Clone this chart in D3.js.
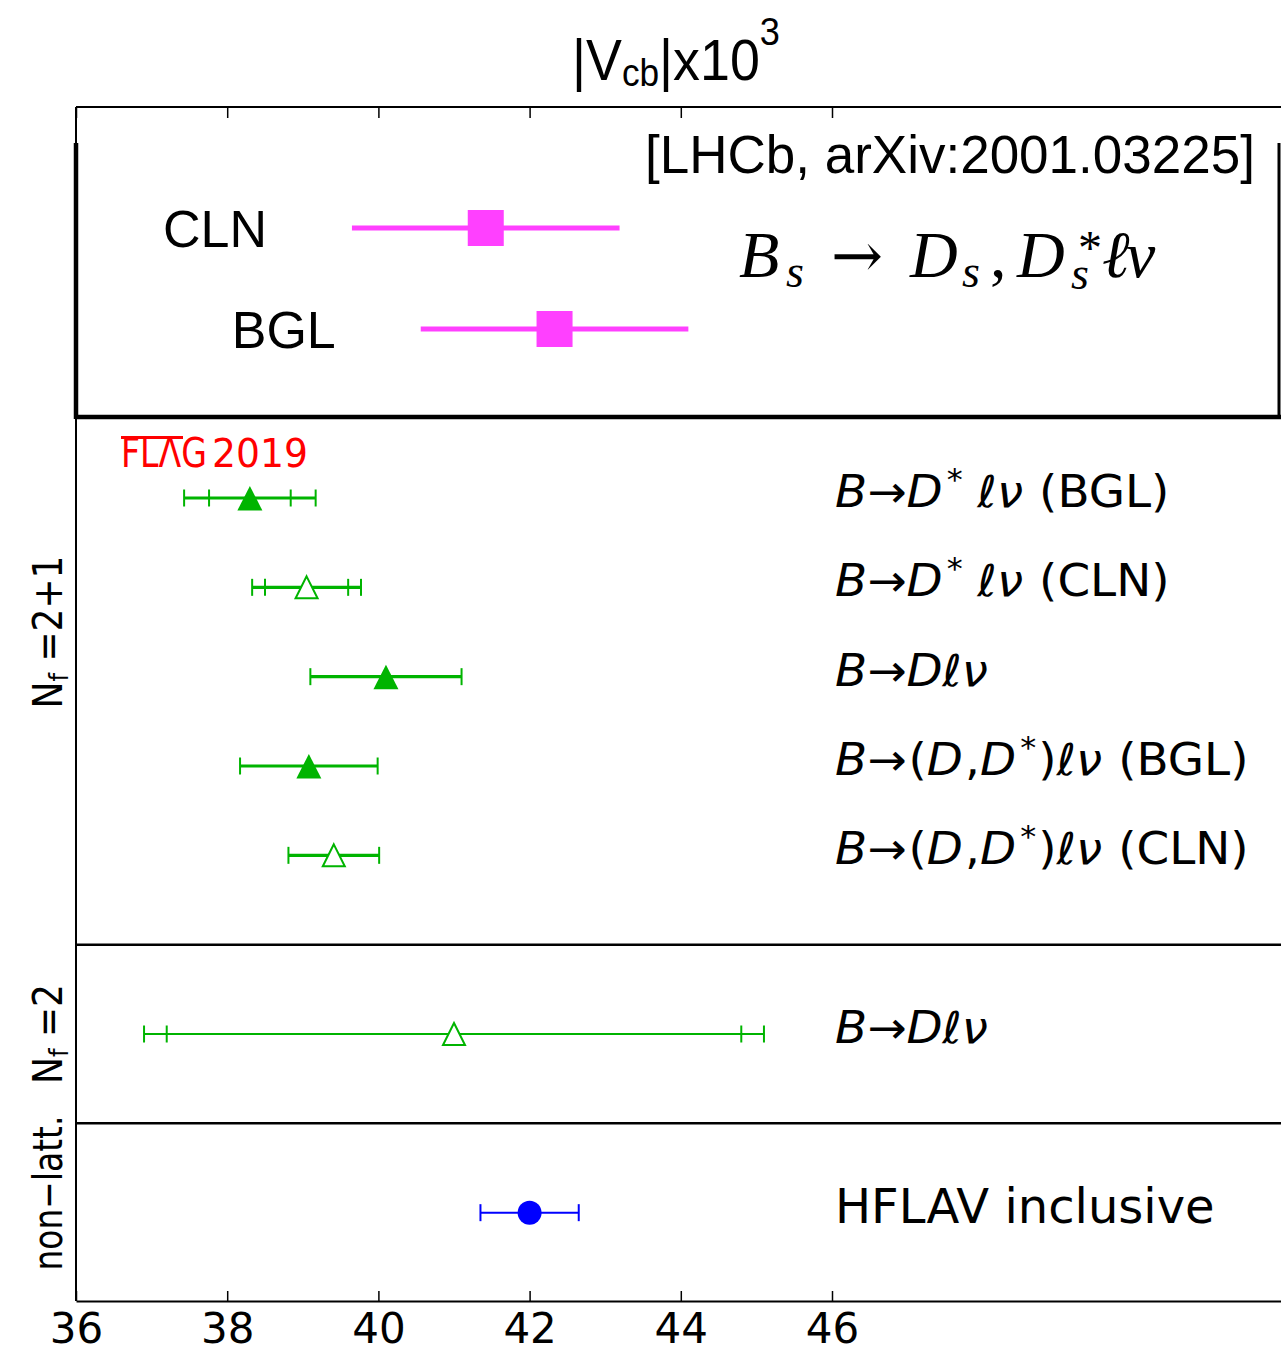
<!DOCTYPE html>
<html>
<head>
<meta charset="utf-8">
<script src="https://cdn.jsdelivr.net/npm/d3@7"></script>
<style>
  html, body { margin: 0; padding: 0; background: #fff; }
  svg { display: block; }
</style>
</head>
<body>
<svg id="chart" width="1281" height="1349"></svg>
<script>
// ---- data: |Vcb| x 10^3 ----
// LHCb Bs -> Ds(*) l nu determinations
const lhcbLabels = ["CLN", "BGL"];
const lhcbValues = [41.42, 42.33];
const lhcbErrors = [1.77, 1.77];

// FLAG 2019 summary rows (top to bottom)
const rowLabels = [
  "B→D* ℓν (BGL)",
  "B→D* ℓν (CLN)",
  "B→Dℓν",
  "B→(D,D*)ℓν (BGL)",
  "B→(D,D*)ℓν (CLN)",
  "B→Dℓν",
  "HFLAV inclusive"
];
const rowGroups = ["2+1", "2+1", "2+1", "2+1", "2+1", "2", "nonlatt"];
const rowValues = [38.30, 39.05, 40.10, 39.08, 39.41, 41.0, 42.00];
const rowInnerErrors = [0.54, 0.55, null, null, null, 3.8, null];
const rowTotalErrors = [0.87, 0.72, 1.00, 0.91, 0.60, 4.1, 0.65];
const rowMarkers = ["filled", "open", "filled", "filled", "open", "open", "circle"];

const groupKeys = ["2+1", "2", "nonlatt"];
const groupNames = [["N", "f", " =2+1"], ["N", "f", " =2"], ["non−latt.", "", ""]];

const tickValues = [36, 38, 40, 42, 44, 46];

// ---- layout ----
const svg = d3.select("#chart");
const W = 1281;
const plotLeft = 76, plotTop = 107, plotBottom = 1301;
const x = d3.scaleLinear().domain([36, 52]).range([plotLeft, plotLeft + 16 * 75.6]);

// vertical slot index: rows with one empty slot between groups
const slotIndex = [];
{
  let s = 0;
  rowGroups.forEach((g, i) => {
    if (i > 0 && g !== rowGroups[i - 1]) s += 1;
    slotIndex.push(s);
    s += 1;
  });
}
const y = d3.scaleLinear().domain([0, 9]).range([498, 1302]);
const yInset = d3.scalePoint().domain(lhcbLabels).range([228, 329]);

const green = "#00b400", magenta = "#ff40ff", blue = "#0000ff";

// ---- frame ----
const frame = svg.append("g").attr("stroke", "#000").attr("fill", "none");
frame.append("line").attr("x1", plotLeft).attr("x2", W).attr("y1", plotTop).attr("y2", plotTop).attr("stroke-width", 2);
frame.append("line").attr("x1", plotLeft).attr("x2", plotLeft).attr("y1", plotTop).attr("y2", plotBottom).attr("stroke-width", 2);

// group separators
rowGroups.forEach((g, i) => {
  if (i > 0 && g !== rowGroups[i - 1]) {
    const yy = y(slotIndex[i] - 1);
    frame.append("line").attr("x1", plotLeft).attr("x2", W).attr("y1", yy).attr("y2", yy).attr("stroke-width", 2.5);
  }
});

// inset box
frame.append("line").attr("x1", plotLeft).attr("x2", plotLeft).attr("y1", 143).attr("y2", 419).attr("stroke-width", 4.5);
frame.append("line").attr("x1", plotLeft).attr("x2", W).attr("y1", 417).attr("y2", 417).attr("stroke-width", 4.5);
frame.append("line").attr("x1", W - 2).attr("x2", W - 2).attr("y1", 143).attr("y2", 417).attr("stroke-width", 3);

// axes
const axB = svg.append("g").attr("transform", `translate(0,${plotBottom})`)
  .call(d3.axisBottom(x).tickValues(tickValues).tickSizeInner(-10).tickSizeOuter(0).tickPadding(12));
axB.select(".domain").attr("stroke", "#000").attr("stroke-width", 2);
axB.selectAll(".tick line").attr("stroke", "#000").attr("stroke-width", 1.5);
axB.selectAll(".tick text").attr("font-family", "DejaVu Sans").attr("font-size", 42).attr("fill", "#000");

const axT = svg.append("g").attr("transform", `translate(0,${plotTop})`)
  .call(d3.axisTop(x).tickValues(tickValues).tickSizeInner(-11).tickSizeOuter(0).tickFormat(""));
axT.select(".domain").remove();
axT.selectAll(".tick line").attr("stroke", "#000").attr("stroke-width", 1.5);

// ---- title ----
const title = svg.append("text")
  .attr("x", 572).attr("y", 80)
  .attr("font-family", "Liberation Sans, Arial, sans-serif").attr("font-size", 58)
  .attr("textLength", 208).attr("lengthAdjust", "spacingAndGlyphs");
title.append("tspan").text("|V");
title.append("tspan").attr("font-size", 38).attr("dy", 6).text("cb");
title.append("tspan").attr("dy", -6).text("|x10");
title.append("tspan").attr("font-size", 39).attr("dy", -35).text("3");

// ---- inset: LHCb ----
const inset = svg.append("g");
inset.selectAll("line.err").data(lhcbLabels).join("line")
  .attr("x1", (d, i) => x(lhcbValues[i] - lhcbErrors[i]))
  .attr("x2", (d, i) => x(lhcbValues[i] + lhcbErrors[i]))
  .attr("y1", d => yInset(d)).attr("y2", d => yInset(d))
  .attr("stroke", magenta).attr("stroke-width", 5);
inset.selectAll("rect").data(lhcbLabels).join("rect")
  .attr("x", (d, i) => x(lhcbValues[i]) - 18)
  .attr("y", d => yInset(d) - 18)
  .attr("width", 36).attr("height", 36).attr("fill", magenta);
inset.selectAll("text.lab").data(lhcbLabels).join("text")
  .attr("x", (d, i) => x(lhcbValues[i] - lhcbErrors[i]) - 189)
  .attr("y", d => yInset(d) + 19)
  .attr("font-family", "Liberation Sans, Arial, sans-serif").attr("font-size", 52)
  .text(d => d);

svg.append("text").attr("x", 645).attr("y", 173)
  .attr("font-family", "Liberation Sans, Arial, sans-serif").attr("font-size", 53)
  .text("[LHCb, arXiv:2001.03225]");

// Bs -> Ds, Ds* l nu (math style)
const mathG = svg.append("g").attr("font-family", "Liberation Serif, DejaVu Serif, serif").attr("fill", "#000");
const mathPieces = [
  { t: "B", x: 739, y: 277, s: 66, it: true },
  { t: "s", x: 786, y: 287, s: 46, it: true },
  { t: "→", x: 831, y: 277, s: 62, it: false, f: "DejaVu Serif" },
  { t: "D", x: 910, y: 277, s: 66, it: true },
  { t: "s", x: 962, y: 287, s: 46, it: true },
  { t: ",", x: 990, y: 277, s: 66, it: false },
  { t: "D", x: 1017, y: 277, s: 66, it: true },
  { t: "*", x: 1078, y: 264, s: 48, it: false },
  { t: "s", x: 1071, y: 289, s: 46, it: true },
  { t: "ℓ", x: 1102, y: 277, s: 66, it: true },
  { t: "ν", x: 1126, y: 277, s: 66, it: true }
];
mathG.selectAll("text").data(mathPieces).join("text")
  .attr("x", d => d.x).attr("y", d => d.y).attr("font-size", d => d.s)
  .attr("font-family", d => d.f || null)
  .attr("font-style", d => d.it ? "italic" : "normal").text(d => d.t);

// ---- FLAG logo ----
const logo = svg.append("g").attr("fill", "#ff0000").attr("font-family", "DejaVu Sans");
logo.append("text").attr("x", 121).attr("y", 467).attr("font-size", 41)
  .attr("textLength", 86).attr("lengthAdjust", "spacingAndGlyphs").text("FLΛG");
logo.append("line").attr("x1", 121).attr("x2", 183).attr("y1", 437.5).attr("y2", 437.5)
  .attr("stroke", "#ff0000").attr("stroke-width", 3);
logo.append("text").attr("x", 212).attr("y", 467).attr("font-size", 39)
  .attr("textLength", 96).attr("lengthAdjust", "spacingAndGlyphs").text("2019");

// ---- rows: error bars and markers ----
const rows = svg.append("g");
const capH = 8.5;
rowLabels.forEach((lab, i) => {
  const cy = y(slotIndex[i]);
  const c = rowValues[i], e = rowTotalErrors[i], ei = rowInnerErrors[i];
  const col = rowMarkers[i] === "circle" ? blue : green;
  const lw = rowGroups[i] === "2+1" ? 3.2 : 2;
  rows.append("line").attr("x1", x(c - e)).attr("x2", x(c + e)).attr("y1", cy).attr("y2", cy)
    .attr("stroke", col).attr("stroke-width", lw);
  const caps = [c - e, c + e];
  if (ei != null) caps.push(c - ei, c + ei);
  caps.forEach(v => {
    rows.append("line").attr("x1", x(v)).attr("x2", x(v)).attr("y1", cy - capH).attr("y2", cy + capH)
      .attr("stroke", col).attr("stroke-width", 2);
  });
  const cx = x(c);
  if (rowMarkers[i] === "circle") {
    rows.append("circle").attr("cx", cx).attr("cy", cy).attr("r", 12).attr("fill", col);
  } else if (rowMarkers[i] === "filled") {
    const p = d3.path();
    p.moveTo(cx, cy - 12); p.lineTo(cx + 12.5, cy + 12.5); p.lineTo(cx - 12.5, cy + 12.5); p.closePath();
    rows.append("path").attr("d", p.toString()).attr("fill", col);
  } else {
    const p = d3.path();
    p.moveTo(cx, cy - 11); p.lineTo(cx + 11, cy + 11); p.lineTo(cx - 11, cy + 11); p.closePath();
    rows.append("path").attr("d", p.toString()).attr("fill", "#fff").attr("stroke", col).attr("stroke-width", 2);
  }
});

// ---- row labels ----
const labG = svg.append("g").attr("fill", "#000").attr("font-family", "DejaVu Sans");
rowLabels.forEach((lab, i) => {
  const cy = y(slotIndex[i]);
  if (lab.indexOf("→") < 0) {
    labG.append("text").attr("x", 835).attr("y", cy + 10).attr("font-size", 48).text(lab);
    return;
  }
  // math-style labels are set slightly wide
  const t = labG.append("g").attr("transform", `translate(835,${cy + 9}) scale(1.065,1)`)
    .append("text").attr("x", 0).attr("y", 0).attr("font-size", 44);
  const cut = lab.indexOf(" (");
  const mathPart = cut >= 0 ? lab.slice(0, cut) : lab;
  const suffix = cut >= 0 ? lab.slice(cut) : "";
  let pendingDy = 0;
  const add = (txt) => {
    const s = t.append("tspan").text(txt);
    if (pendingDy) { s.attr("dy", pendingDy); pendingDy = 0; }
    return s;
  };
  for (const ch of mathPart) {
    if (ch === "*") {
      add("*").attr("font-size", 30).attr("dy", -17).attr("dx", 4);
      pendingDy = 17;
    } else if ("BDℓν".includes(ch)) {
      add(ch).attr("font-style", "italic");
    } else if (ch === "(" || ch === ")" || ch === ",") {
      add(ch).attr("dx", 2);
    } else {
      add(ch);
    }
  }
  if (suffix) add(suffix).attr("dx", 1);
});

// ---- group labels (rotated) ----
const gl = svg.append("g").attr("font-family", "DejaVu Sans").attr("fill", "#000");
const groupCenters = [1.5, 6, 7.78];
const groupLengths = [153, 100, 155];
groupKeys.forEach((g, k) => {
  const cy = y(groupCenters[k]);
  const t = gl.append("text")
    .attr("transform", `translate(62,${cy}) rotate(-90)`)
    .attr("text-anchor", "middle").attr("font-size", 40)
    .attr("textLength", groupLengths[k]).attr("lengthAdjust", "spacingAndGlyphs");
  const [a, sub, b] = groupNames[k];
  t.append("tspan").text(a);
  if (sub) {
    t.append("tspan").attr("font-size", 27).attr("dy", 6).text(sub);
    t.append("tspan").attr("dy", -6).text(b);
  }
});
</script>
</body>
</html>
